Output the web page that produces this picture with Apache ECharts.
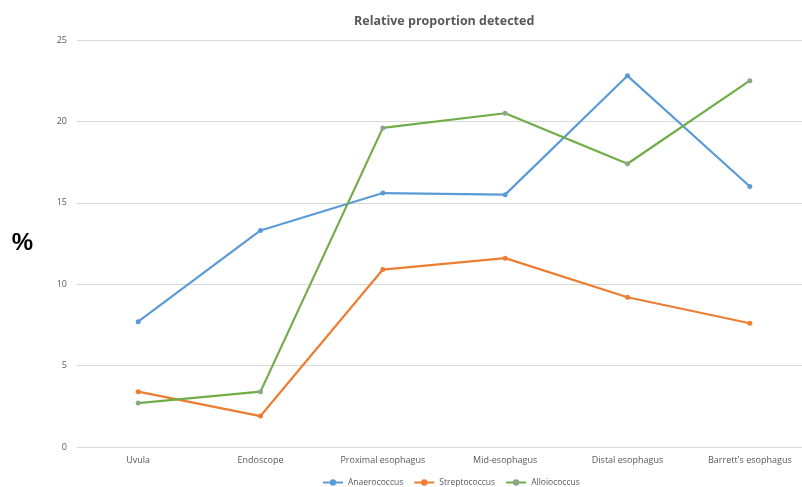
<!DOCTYPE html>
<html><head><meta charset="utf-8">
<script src="https://cdn.jsdelivr.net/npm/echarts@6/dist/echarts.min.js"></script>
<style>html,body{margin:0;padding:0;background:#fff}#c{width:802px;height:487px}</style>
</head><body><div id="c"></div>
<script>
const categories = ['Uvula','Endoscope','Proximal esophagus','Mid-esophagus','Distal esophagus',"Barrett's esophagus"];
const anaerococcus = [7.7, 13.3, 15.6, 15.5, 22.8, 16.0];
const streptococcus = [3.4, 1.9, 10.9, 11.6, 9.2, 7.6];
const alloiococcus = [2.7, 3.4, 19.6, 20.5, 17.4, 22.5];
const yTicks = [0, 5, 10, 15, 20, 25];

const chart = echarts.init(document.getElementById('c'), null, {renderer:'canvas'});
const font = 'Open Sans';
function mk(name, data, color, markerColor){
  return {name, type:'line', data, symbol:'circle', symbolSize:5,
    lineStyle:{color, width:2.2}, itemStyle:{color: markerColor || color},
    color, emphasis:{disabled:true}};
}
chart.setOption({
  animation:false,
  title:{text:'Relative proportion detected', left:349, top:10,
    textStyle:{fontFamily:font, fontSize:12.5, fontWeight:'bold', color:'#595959'}},
  legend:{left:317, top:473, itemWidth:20, itemHeight:8, itemGap:10,
    textStyle:{fontFamily:font, fontSize:8.5, color:'#595959'},
    data:['Anaerococcus','Streptococcus','Alloiococcus']},
  grid:{left:77, width:734, top:40, height:407, outerBoundsMode:'none', containLabel:false},
  xAxis:{type:'category', data:categories, boundaryGap:true,
    axisLine:{lineStyle:{color:'#d9d9d9'}}, axisTick:{show:false},
    axisLabel:{fontFamily:font, fontSize:9, color:'#595959', margin:9, interval:0}},
  yAxis:{type:'value', min:yTicks[0], max:yTicks[yTicks.length-1], interval:5,
    name:'%', nameLocation:'middle', nameRotate:0, nameGap:44,
    nameTextStyle:{fontFamily:'Liberation Sans', fontSize:24, fontWeight:'bold', color:'#000'},
    axisLine:{show:false}, axisTick:{show:false},
    splitLine:{lineStyle:{color:'#d9d9d9', width:1}},
    axisLabel:{fontFamily:font, fontSize:9, color:'#595959', margin:10}},
  series:[
    mk('Anaerococcus', anaerococcus, '#5B9BD5'),
    mk('Streptococcus', streptococcus, '#ED7D31'),
    mk('Alloiococcus', alloiococcus, '#70AD47', '#8FA58A')
  ]
});
</script></body></html>
